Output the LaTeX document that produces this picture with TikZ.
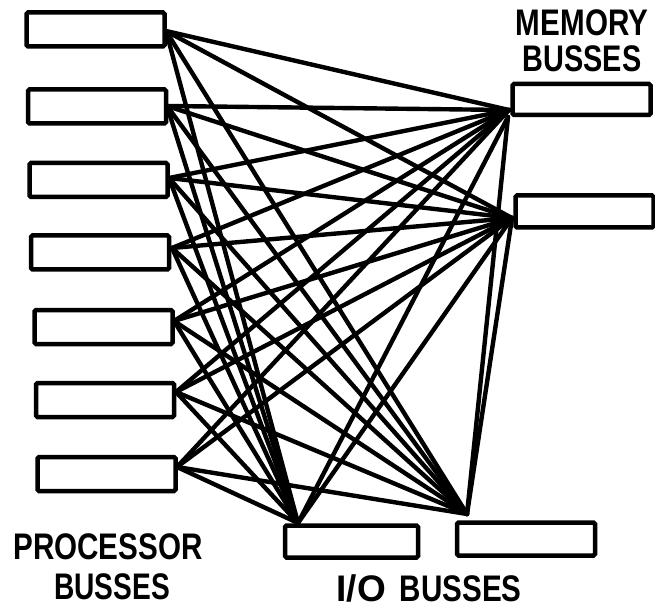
\documentclass[tikz,border=0pt]{standalone}
\usepackage{graphicx}
\usepackage{fontspec}
\setmainfont{Liberation Sans}
\begin{document}
\begin{tikzpicture}[x=1pt,y=-1pt,
  bus/.style={draw, line width=4.5pt, rounded corners=1.5pt, minimum width=138pt, minimum height=34pt, inner sep=0pt},
  link/.style={line width=4.4pt, line cap=round},
  lbl/.style={inner sep=0pt, font=\bfseries\fontsize{37}{39}\selectfont}]
\useasboundingbox (0,0) rectangle (655,609);
% connection points
\coordinate (p1) at (166,31);
\coordinate (p2) at (167,106);
\coordinate (p3) at (169,178);
\coordinate (p4) at (172,248);
\coordinate (p5) at (174,321);
\coordinate (p6) at (176,392);
\coordinate (p7) at (177,467);
\coordinate (m1) at (509,110);
\coordinate (m1b) at (508,117);
\coordinate (m2) at (512,218);
\coordinate (io1) at (298,523);
\coordinate (io2) at (467,514);
\foreach \p in {p1,p2,p3,p4,p5,p6,p7}{
  \foreach \t in {m1,m2,io1,io2}{
    \draw[link] (\p) -- (\t);
  }
}
\draw[link] (io1) -- (m1b);
\draw[link] (io1) -- (m2);
\draw[link] (io2) -- (m1b);
\draw[link] (io2) -- (m2);
% processor busses
\node[bus] (P1) at (95.5,29.5) {};
\node[bus] (P2) at (97,106.5) {};
\node[bus] (P3) at (98.5,180) {};
\node[bus] (P4) at (100,252.5) {};
\node[bus] (P5) at (103.5,327) {};
\node[bus] (P6) at (105,400) {};
\node[bus] (P7) at (106.5,474) {};
% memory busses
\node[bus, minimum height=31pt] (M1) at (581.5,99.5) {};
\node[bus, minimum height=32pt] (M2) at (584.5,211.5) {};
% I/O busses
\node[bus, minimum width=133pt, minimum height=32pt] (IO1) at (351.5,541.5) {};
\node[bus, minimum width=138pt, minimum height=33pt] (IO2) at (526,539) {};
% labels
\node[lbl] (memA) at (582,23) {\scalebox{0.8}[1]{MEMORY}};
\node[lbl] (memB) at (582,59) {\scalebox{0.78}[1]{BUSSES}};
\node[lbl] (procA) at (108,547) {\scalebox{0.8}[1]{PROCESSOR}};
\node[lbl] (procB) at (112,587) {\scalebox{0.76}[1]{BUSSES}};
\node[lbl] (ioA) at (429,588) {I/O\hspace{14pt}\scalebox{0.8}[1]{BUSSES}};
\end{tikzpicture}
\end{document}
